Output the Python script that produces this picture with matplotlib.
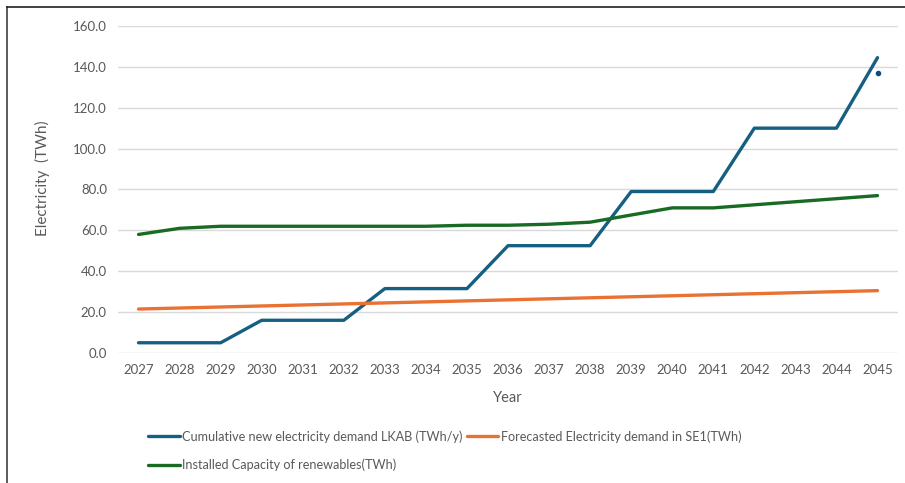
import matplotlib.pyplot as plt
from matplotlib.lines import Line2D

plt.rcParams['font.family'] = ['Lato', 'DejaVu Sans']

years = list(range(2027, 2046))
lkab = [5, 5, 5, 16, 16, 16, 31.5, 31.5, 31.5, 52.5, 52.5, 52.5,
        79, 79, 79, 110, 110, 110, 144.5]
se1 = [21.5, 22, 22.5, 23, 23.5, 24, 24.5, 25, 25.5, 26, 26.5, 27,
       27.5, 28, 28.5, 29, 29.5, 30, 30.5]
renew = [58, 61, 62, 62, 62, 62, 62, 62, 62.5, 62.5, 63, 64,
         67.5, 71, 71, 72.5, 74, 75.5, 77]
extra_year = 2045
extra_val = 137

blue = '#156082'
orange = '#E97132'
green = '#196B24'
grey = '#595959'

fig = plt.figure(figsize=(9.05, 4.83), dpi=100)
ax = fig.add_axes([0.1304, 0.2692, 0.8619, 0.677])

ax.plot(years, lkab, color=blue, lw=2.4, solid_capstyle='round',
        label='Cumulative new electricity demand LKAB (TWh/y)')
ax.plot(years, se1, color=orange, lw=2.4, solid_capstyle='round',
        label='Forecasted Electricity demand in SE1(TWh)')
ax.plot(years, renew, color=green, lw=2.4, solid_capstyle='round',
        label='Installed Capacity of renewables(TWh)')
ax.plot([extra_year], [extra_val], 'o', color='#0F4C81', ms=3)

ax.set_xlim(2026.5, 2045.5)
ax.set_ylim(0, 160)
ax.set_yticks(range(0, 161, 20))
ax.set_yticklabels([f'{v:.1f}' for v in range(0, 161, 20)])
ax.set_xticks(years)
ax.grid(axis='y', color='#D9D9D9', lw=1)
ax.set_axisbelow(True)
for s in ax.spines.values():
    s.set_visible(False)
ax.tick_params(length=0, colors=grey, labelsize=9.5, pad=8)

ax.set_ylabel('Electricity  (TWh)', color=grey, fontsize=11)
ax.yaxis.set_label_coords(-0.087, 0.535)
ax.set_xlabel('Year', color=grey, fontsize=10.5)
ax.xaxis.set_label_coords(0.5, -0.115)

h, l = ax.get_legend_handles_labels()
order = [0, 2, 1]
fig.legend([h[i] for i in order], [l[i] for i in order], ncol=2,
           loc='upper left', bbox_to_anchor=(0.158, 0.12), frameon=False,
           fontsize=9.1, labelcolor=grey, handlelength=2.5,
           handletextpad=0.22, columnspacing=0.3, borderaxespad=0,
           labelspacing=1.25)

# frame of the cropped chart area
fig.add_artist(Line2D([0.0077, 0.0077], [0, 0.9855], color='#404040', lw=1.2))
fig.add_artist(Line2D([0.0077, 1], [0.9855, 0.9855], color='#202020', lw=1.2))

fig.savefig('out.png', dpi=100)
